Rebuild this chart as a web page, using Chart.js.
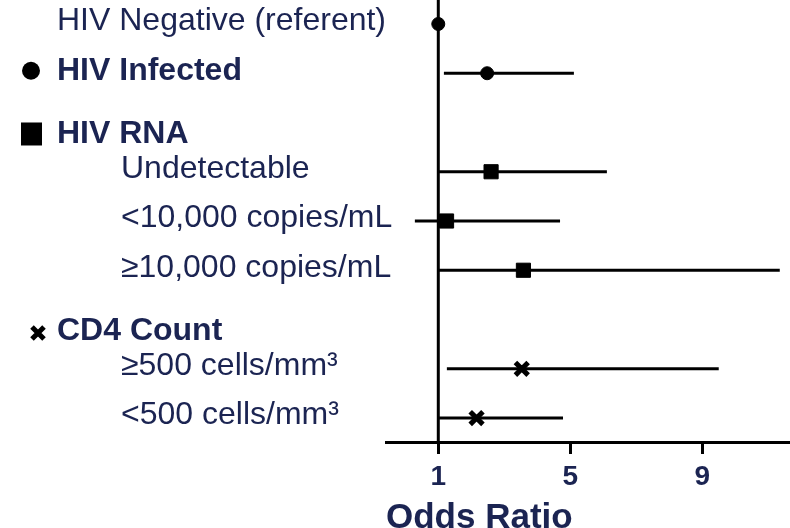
<!DOCTYPE html>
<html>
<head>
<meta charset="utf-8">
<script src="https://cdn.jsdelivr.net/npm/chart.js@4"></script>
<style>
  html, body { margin: 0; padding: 0; background: #fff; }
  canvas { display: block; }
</style>
</head>
<body>
<canvas id="c" width="790" height="528"></canvas>
<script>
// ---- data ----
const rowLabels = ['HIV Negative (referent)', 'HIV Infected', 'HIV RNA', 'Undetectable',
  '<10,000 copies/mL', '\u226510,000 copies/mL', 'CD4 Count', '\u2265500 cells/mm\u00b3', '<500 cells/mm\u00b3'];
const rowTypes = ['referent', 'group', 'group', 'item', 'item', 'item', 'group', 'item', 'item'];
const rowMarkers = ['circle', 'circle', 'rect', 'rect', 'rect', 'rect', 'crossRot', 'crossRot', 'crossRot'];
const oddsRatio = [1, 2.48, null, 2.6, 1.25, 3.58, null, 3.53, 2.16];
const ciLower = [null, 1.17, null, 1.0, 0.29, 1.0, null, 1.26, 1.0];
const ciUpper = [null, 5.11, null, 6.11, 4.69, 11.35, null, 9.5, 4.78];
const xTicks = [1, 5, 9];
const referenceOR = 1;
const axisTitle = 'Odds Ratio';

// ---- styles ----
const FONT = "'Liberation Sans', Arial, Helvetica, sans-serif";
const TEXT = '#1b2452';
const markerStyle = {
  circle: { pointStyle: 'circle', pointRadius: 6.5, pointBorderWidth: 1 },
  rect: { pointStyle: 'rect', pointRadius: 10, pointBorderWidth: 1 },
  crossRot: { pointStyle: 'crossRot', pointRadius: 9, pointBorderWidth: 5 }
};

const datasets = [];
// CI lines
rowLabels.forEach((lab, i) => {
  if (ciLower[i] != null && ciUpper[i] != null) {
    datasets.push({
      label: lab + ' CI',
      data: [{ x: ciLower[i], y: i }, { x: ciUpper[i], y: i }],
      showLine: true,
      borderColor: '#000',
      borderWidth: 3,
      pointRadius: 0,
      order: 2
    });
  }
});
// point markers
Object.keys(markerStyle).forEach(m => {
  const pts = [];
  rowLabels.forEach((lab, i) => {
    if (rowMarkers[i] === m && oddsRatio[i] != null) pts.push({ x: oddsRatio[i], y: i });
  });
  datasets.push(Object.assign({
    label: m,
    data: pts,
    backgroundColor: '#000',
    borderColor: '#000',
    order: 0
  }, markerStyle[m]));
});

const forestPlugin = {
  id: 'forest',
  beforeDatasetsDraw(chart) {
    const { ctx, chartArea, scales } = chart;
    const x = scales.x.getPixelForValue(referenceOR);
    ctx.save();
    ctx.strokeStyle = '#000';
    ctx.lineWidth = 3;
    ctx.beginPath();
    ctx.moveTo(x, chartArea.top);
    ctx.lineTo(x, chartArea.bottom);
    ctx.stroke();
    ctx.restore();
  },
  afterDraw(chart) {
    const { ctx, scales } = chart;
    ctx.save();
    ctx.textBaseline = 'middle';
    ctx.textAlign = 'left';
    rowLabels.forEach((lab, i) => {
      const type = rowTypes[i];
      let y = scales.y.getPixelForValue(i);
      y += (oddsRatio[i] == null) ? 11.5 : -2.5;
      const x = type === 'item' ? 121 : 57;
      ctx.fillStyle = TEXT;
      ctx.font = (type === 'group' ? 'bold ' : '') + '32px ' + FONT;
      ctx.fillText(lab, x, y);
      if (type === 'group') {
        const m = rowMarkers[i];
        ctx.fillStyle = '#000';
        ctx.strokeStyle = '#000';
        if (m === 'circle') {
          ctx.beginPath();
          ctx.arc(31, y, 9, 0, Math.PI * 2);
          ctx.fill();
        } else if (m === 'rect') {
          ctx.fillRect(21, y - 11.5, 21, 23);
        } else {
          const cx = 38, cy = y + 2, d = 6;
          ctx.lineWidth = 5;
          ctx.beginPath();
          ctx.moveTo(cx - d, cy - d); ctx.lineTo(cx + d, cy + d);
          ctx.moveTo(cx + d, cy - d); ctx.lineTo(cx - d, cy + d);
          ctx.stroke();
        }
      }
    });
    ctx.restore();
  }
};

new Chart(document.getElementById('c'), {
  type: 'scatter',
  data: { datasets },
  options: {
    responsive: false,
    animation: false,
    events: [],
    layout: { autoPadding: false, padding: { left: 386, right: 0, top: 0, bottom: 0 } },
    plugins: { legend: { display: false }, tooltip: { enabled: false } },
    scales: {
      x: {
        type: 'linear',
        position: 'bottom',
        min: -0.585,
        max: 11.66,
        afterBuildTicks: (s) => { s.ticks = xTicks.map(v => ({ value: v })); },
        afterFit: (s) => { s.height = 86; },
        grid: { display: true, drawOnChartArea: false, drawTicks: true, tickLength: 12, tickWidth: 3, tickColor: '#000' },
        border: { display: true, width: 3, color: '#000' },
        ticks: { color: TEXT, padding: 6, font: { family: FONT, size: 28, weight: 'bold' }, maxRotation: 0 },
        title: { display: true, text: axisTitle, align: 'start', color: TEXT,
          font: { family: FONT, size: 35, weight: 'bold', lineHeight: 0.55 }, padding: { top: 0, bottom: 0 } }
      },
      y: {
        type: 'linear',
        display: false,
        reverse: true,
        min: -0.487,
        max: 8.487
      }
    }
  },
  plugins: [forestPlugin]
});
</script>
</body>
</html>
